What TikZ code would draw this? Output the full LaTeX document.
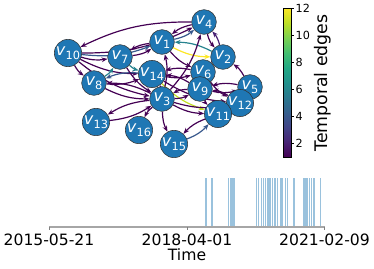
\documentclass[tikz,border=0pt]{standalone}
\usepackage{fontspec}
\setmainfont{DejaVu Sans}
\usetikzlibrary{arrows.meta}
\pgfdeclarelayer{bg}
\pgfsetlayers{bg,main}
\definecolor{nodeblue}{HTML}{1F77B4}
\definecolor{c1}{HTML}{440154}
\definecolor{c2}{HTML}{482374}
\definecolor{c4}{HTML}{38588C}
\definecolor{c6}{HTML}{26828E}
\definecolor{c11}{HTML}{C2DF23}
\definecolor{c12}{HTML}{FDE725}
\definecolor{vA}{HTML}{440154}
\definecolor{vB}{HTML}{482475}
\definecolor{vC}{HTML}{414487}
\definecolor{vD}{HTML}{355F8D}
\definecolor{vE}{HTML}{2A788E}
\definecolor{vF}{HTML}{21918C}
\definecolor{vG}{HTML}{22A884}
\definecolor{vH}{HTML}{44BF70}
\definecolor{vI}{HTML}{7AD151}
\definecolor{vJ}{HTML}{BDDF26}
\definecolor{vK}{HTML}{FDE725}
\newcommand\vlab[1]{\textit{v}\raisebox{-0.45ex}{\fontsize{8.5}{9}\selectfont #1}}
\tikzset{
  vtx/.style={circle, fill=nodeblue, draw=black!80, line width=0.4pt, minimum size=18.5pt, inner sep=0pt, text=white, font=\fontsize{12}{12}\selectfont},
  ed/.style={-{Stealth[length=4.5pt,width=3.5pt]}, line width=0.9pt, bend right=13},
  bar/.style={nodeblue, line width=0.8pt, opacity=0.45},
  ticklab/.style={font=\fontsize{11.7}{12}\selectfont, inner sep=0pt, text=black},
  cblab/.style={font=\fontsize{8.4}{9}\selectfont, inner sep=0pt, anchor=west, text=black}
}
\begin{document}
\begin{tikzpicture}[x=0.75pt,y=-0.75pt]
\useasboundingbox (0,0) rectangle (374,268);
% nodes
\node[vtx] (v10) at (68,53) {\vlab{10}};
\node[vtx] (v7) at (120,57) {\vlab{7}};
\node[vtx] (v1) at (162,42) {\vlab{1}};
\node[vtx] (v4) at (204,22) {\vlab{4}};
\node[vtx] (v2) at (223,57) {\vlab{2}};
\node[vtx] (v8) at (94,83) {\vlab{8}};
\node[vtx] (v14) at (152,74) {\vlab{14}};
\node[vtx] (v6) at (203,72) {\vlab{6}};
\node[vtx] (v9) at (200,89) {\vlab{9}};
\node[vtx] (v5) at (250,87) {\vlab{5}};
\node[vtx] (v12) at (240,103) {\vlab{12}};
\node[vtx] (v3) at (162,99) {\vlab{3}};
\node[vtx] (v11) at (218,114) {\vlab{11}};
\node[vtx] (v13) at (96,122) {\vlab{13}};
\node[vtx] (v16) at (139,130) {\vlab{16}};
\node[vtx] (v15) at (174,144) {\vlab{15}};
\begin{pgfonlayer}{bg}
\draw[ed,c1] (v4) to (v10);
\draw[ed,c1] (v10) to (v4);
\draw[ed,c4] (v10) to (v1);
\draw[ed,c1] (v10) to (v7);
\draw[ed,c1] (v10) to (v8);
\draw[ed,c1] (v10) to (v3);
\draw[ed,c1] (v10) to (v14);
\draw[ed,c1] (v7) to (v1);
\draw[ed,c1] (v1) to (v7);
\draw[ed,c6] (v7) to (v14);
\draw[ed,c6] (v8) to (v7);
\draw[ed,c4] (v14) to (v8);
\draw[ed,c1] (v8) to (v14);
\draw[ed,c1] (v3) to (v8);
\draw[ed,c1] (v8) to (v3);
\draw[ed,c1] (v7) to (v3);
\draw[ed,c1] (v3) to (v13);
\draw[ed,c1] (v13) to (v3);
\draw[ed,c1] (v3) to (v16);
\draw[ed,c1] (v3) to (v15);
\draw[ed,c4] (v15) to (v11);
\draw[ed,c1] (v11) to (v15);
\draw[ed,c12] (v1) to (v2);
\draw[ed,c6] (v2) to (v1);
\draw[ed,c11] (v14) to (v11);
\draw[ed,c4] (v1) to (v4);
\draw[ed,c1] (v4) to (v1);
\draw[ed,c1] (v4) to (v2);
\draw[ed,c2] (v2) to (v4);
\draw[ed,c1] (v5) to (v2);
\draw[ed,c1] (v3) to (v4);
\draw[ed,c1] (v3) to (v1);
\draw[ed,c1] (v1) to (v6);
\draw[ed,c1] (v14) to (v6);
\draw[ed,c1] (v6) to (v14);
\draw[ed,c1] (v3) to (v9);
\draw[ed,c1] (v9) to (v3);
\draw[ed,c1] (v3) to (v12);
\draw[ed,c1] (v3) to (v11);
\draw[ed,c1] (v9) to (v5);
\draw[ed,c1] (v5) to (v9);
\draw[ed,c1] (v12) to (v9);
\draw[ed,c1] (v6) to (v12);
\draw[ed,c1] (v9) to (v11);
\draw[ed,c1] (v14) to (v12);
\draw[ed,c1] (v9) to (v14);
\draw[ed,c1] (v2) to (v6);
\draw[ed,c1] (v3) to (v14);
\end{pgfonlayer}
% colorbar
\foreach \a/\b [count=\i from 0] in {vA/vB,vB/vC,vC/vD,vD/vE,vE/vF,vF/vG,vG/vH,vH/vI,vI/vJ,vJ/vK}{
  \shade[bottom color=\a, top color=\b] (283,{157-\i*14.87}) rectangle (291,{157-(\i+1)*14.87-0.3});
}
\draw[line width=0.5pt, black] (283,8.3) rectangle (291,157);
\foreach \v in {2,4,6,8,10,12}{
  \coordinate (t\v) at (291,{157-13.52*(\v-1)});
  \draw[line width=0.5pt] (t\v) -- ++(3,0) node[cblab, xshift=1pt] {\v};
}
\node[rotate=90, font=\fontsize{13}{13}\selectfont, inner sep=0pt] (cbt) at (323,83) {Temporal edges};
% timeline
\coordinate (ax0) at (49,227);
\coordinate (ax1) at (187,227);
\coordinate (ax2) at (324.5,227);
\foreach \x in {206,212,228.7,230.7,232,233.3,234.7,256.7,258.3,261.7,263.3,265.7,267.7,269,270.7,272.7,275,277.3,281,282.7,285.3,287.3,294,303.3,304.3,306,307.7,309.3,311.7,314,320.7}{
  \draw[bar] (\x,178) -- (\x,227);
}
\draw[line width=0.8pt, black!35] (ax0) -- (ax2);
\foreach \c/\t in {ax0/2015-05-21,ax1/2018-04-01,ax2/2021-02-09}{
  \draw[line width=0.6pt, black!50] (\c) -- ++(0,3) node[ticklab, anchor=north, yshift=-2.5pt] {\t};
}
\node[ticklab] (tl) at (187,255) {Time};
\end{tikzpicture}
\end{document}
